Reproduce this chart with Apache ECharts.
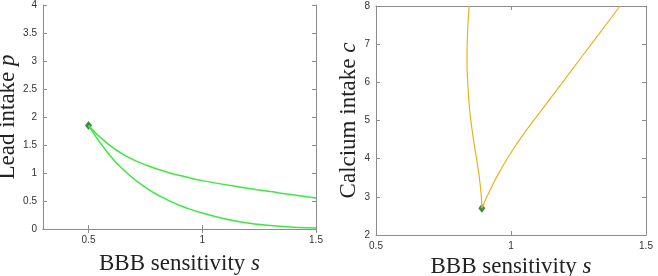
<!DOCTYPE html>
<html>
<head>
<meta charset="utf-8">
<script src="https://cdn.jsdelivr.net/npm/echarts@6/dist/echarts.min.js"></script>
<style>
  html, body { margin: 0; padding: 0; background: #fff; }
  #chart { width: 658px; height: 276px; }
</style>
</head>
<body>
<div id="chart"></div>
<script>
  // left panel: lead intake p vs BBB sensitivity s
  const sUpper = [0.5, 0.582, 0.67, 0.758, 0.846, 0.934, 1.0, 1.163, 1.339, 1.5]
  const pUpper = [1.85, 1.53, 1.292, 1.134, 1.015, 0.923, 0.864, 0.75, 0.644, 0.555]
  const sLower = [0.5, 0.582, 0.67, 0.758, 0.846, 0.934, 1.0, 1.163, 1.339, 1.5]
  const pLower = [1.85, 1.374, 0.996, 0.723, 0.521, 0.371, 0.285, 0.13, 0.051, 0.016]
  const leadPoint = [0.5, 1.85]

  // right panel: calcium intake c vs BBB sensitivity s
  const sLeftBranch = [0.892, 0.889, 0.881, 0.87, 0.858, 0.847, 0.84, 0.837, 0.839, 0.845]
  const cLeftBranch = [2.7, 3.1, 3.6, 4.1, 4.65, 5.27, 5.97, 6.6, 7.28, 8.0]
  const sRightBranch = [0.892, 0.928, 0.966, 1.003, 1.04, 1.114, 1.188, 1.262, 1.336, 1.404]
  const cRightBranch = [2.7, 3.26, 3.76, 4.19, 4.58, 5.28, 5.97, 6.67, 7.36, 8.0]
  const calciumPoint = [0.892, 2.7]

  const xTicks = [0.5, 1, 1.5]

  const zip = (xs, ys) => xs.map((x, i) => [x, ys[i]])

  const axisColor = '#8c8c8c'
  const tickFont = { color: '#333', fontSize: 10, fontFamily: 'Liberation Sans, Arial, sans-serif' }
  const nameRich = {
    a: { fontFamily: 'Liberation Serif, Times New Roman, serif', fontSize: 23, color: '#222' },
    b: { fontFamily: 'Liberation Serif, Times New Roman, serif', fontSize: 23, fontStyle: 'italic', color: '#222' }
  }

  const mainAxis = (extra) => Object.assign({
    type: 'value',
    splitLine: { show: false },
    axisLine: { show: true, lineStyle: { color: axisColor, width: 1 } },
    axisTick: { show: true, inside: true, length: 4, lineStyle: { color: axisColor } },
    axisLabel: Object.assign({ margin: 6 }, tickFont),
    nameLocation: 'middle',
    nameTextStyle: { rich: nameRich }
  }, extra)

  const mirrorAxis = (extra) => Object.assign({
    type: 'value',
    splitLine: { show: false },
    axisLine: { show: true, lineStyle: { color: axisColor, width: 1 } },
    axisTick: { show: true, inside: true, length: 4, lineStyle: { color: axisColor } },
    axisLabel: { show: false }
  }, extra)

  const chart = echarts.init(document.getElementById('chart'))

  const option = {
    animation: false,
    backgroundColor: '#fff',
    grid: [
      { left: 43, right: 342, top: 5, bottom: 47, outerBoundsMode: 'none' },
      { left: 376, right: 12, top: 6, bottom: 41, outerBoundsMode: 'none' }
    ],
    xAxis: [
      mainAxis({
        gridIndex: 0, min: 0.3, max: 1.5,
        axisTick: { show: true, inside: true, length: 4, lineStyle: { color: axisColor }, customValues: xTicks },
        axisLabel: Object.assign({ margin: 6, customValues: xTicks }, tickFont),
        name: '{a|BBB sensitivity }{b|s}', nameGap: 23
      }),
      mainAxis({
        gridIndex: 1, min: 0.5, max: 1.5, interval: 0.5,
        name: '{a|BBB sensitivity }{b|s}', nameGap: 14
      }),
      mirrorAxis({
        gridIndex: 0, position: 'top', min: 0.3, max: 1.5,
        axisTick: { show: true, inside: true, length: 4, lineStyle: { color: axisColor }, customValues: xTicks }
      }),
      mirrorAxis({ gridIndex: 1, position: 'top', min: 0.5, max: 1.5, interval: 0.5 })
    ],
    yAxis: [
      mainAxis({
        gridIndex: 0, min: 0, max: 4, interval: 0.5,
        name: '{a|Lead intake }{b|p}', nameGap: 22
      }),
      mainAxis({
        gridIndex: 1, min: 2, max: 8, interval: 1,
        name: '{a|Calcium intake }{b|c}', nameGap: 12
      }),
      mirrorAxis({ gridIndex: 0, position: 'right', min: 0, max: 4, interval: 0.5 }),
      mirrorAxis({ gridIndex: 1, position: 'right', min: 2, max: 8, interval: 1 })
    ],
    series: [
      {
        type: 'line', xAxisIndex: 0, yAxisIndex: 0, smooth: true, showSymbol: false,
        lineStyle: { color: '#3ee83e', width: 1.5 }, data: zip(sUpper, pUpper)
      },
      {
        type: 'line', xAxisIndex: 0, yAxisIndex: 0, smooth: true, showSymbol: false,
        lineStyle: { color: '#3ee83e', width: 1.5 }, data: zip(sLower, pLower)
      },
      {
        type: 'scatter', xAxisIndex: 0, yAxisIndex: 0, symbol: 'diamond', symbolSize: [7, 9],
        itemStyle: { color: '#0b6b16' }, data: [leadPoint]
      },
      {
        type: 'line', xAxisIndex: 1, yAxisIndex: 1, smooth: true, showSymbol: false,
        lineStyle: { color: '#edb120', width: 1.2 }, data: zip(sLeftBranch, cLeftBranch)
      },
      {
        type: 'line', xAxisIndex: 1, yAxisIndex: 1, smooth: true, showSymbol: false,
        lineStyle: { color: '#edb120', width: 1.2 }, data: zip(sRightBranch, cRightBranch)
      },
      {
        type: 'scatter', xAxisIndex: 1, yAxisIndex: 1, symbol: 'diamond', symbolSize: [7, 9],
        itemStyle: { color: '#0b6b16' }, data: [calciumPoint]
      }
    ]
  }

  chart.setOption(option)
</script>
</body>
</html>
